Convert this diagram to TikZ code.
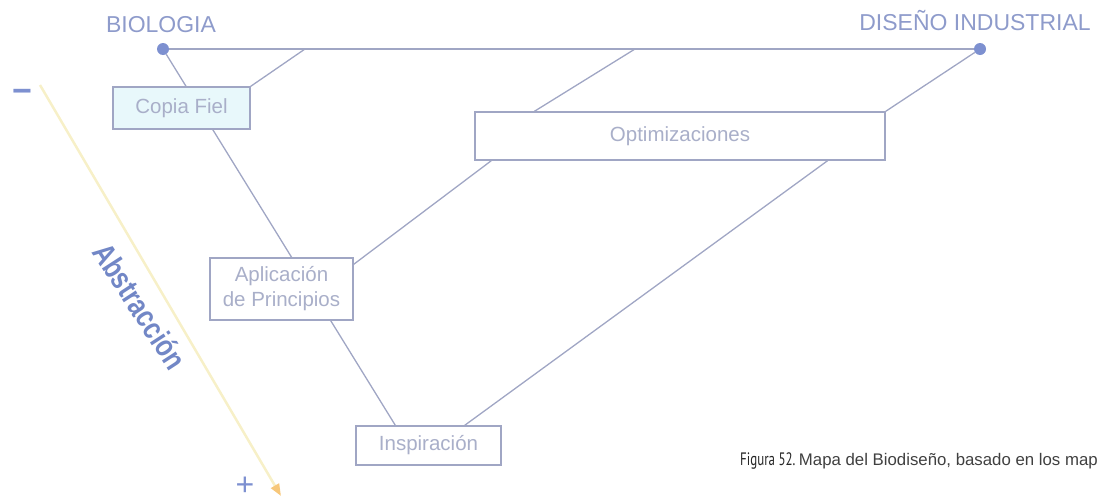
\documentclass[tikz,border=0pt]{standalone}
\usepackage{fontspec}
\setmainfont{Liberation Sans}
\newfontfamily\figfont{PT Sans}
\usepackage{tikz}
\usetikzlibrary{arrows.meta}
\usetikzlibrary{backgrounds}
\definecolor{linec}{HTML}{A0A6C4}
\definecolor{boxtxt}{HTML}{A9AFC9}
\definecolor{headtxt}{HTML}{8E9BCB}
\definecolor{dotc}{HTML}{7D90D0}
\definecolor{abstc}{HTML}{7287C6}
\definecolor{fielfill}{HTML}{E8F8FB}
\definecolor{axisc}{HTML}{F7F0C8}
\definecolor{tipc}{HTML}{F7C77A}
\tikzset{mapbox/.style={draw=linec, line width=1.3pt, fill=white, text=boxtxt,
      font=\fontsize{20.5}{25}\selectfont, align=center, inner sep=0pt},
  link/.style={draw=linec, line width=1.3pt},
  endpt/.style={circle, fill=dotc, inner sep=0pt, minimum size=12pt},
  heading/.style={text=headtxt, font=\fontsize{23}{26}\selectfont, inner sep=0pt, anchor=base}}

\begin{document}
\begin{tikzpicture}[x=1pt, y=-1pt]
		\clip (0,0) rectangle (1106,501);
		% ends of the map
		\node[endpt] (bio) at (163,49) {};
		\node[endpt] (dis) at (980,49) {};
		\node[heading] (biot) at (161,32) {BIOLOGIA};
		\node[heading] (dist) at (975,30) {DISEÑO INDUSTRIAL};
		% levels
		\node[mapbox, fill=fielfill, minimum width=137pt, minimum height=42pt] (copia) at (181.5,108) {Copia Fiel};
		\node[mapbox, minimum width=410pt, minimum height=48pt] (optim) at (680,136) {Optimizaciones};
		\node[mapbox, minimum width=143pt, minimum height=62pt] (aplic) at (281.5,289) {Aplicación\\de Principios};
		\node[mapbox, minimum width=145pt, minimum height=39pt] (insp) at (428.5,445.5) {Inspiración};
		\coordinate (j1) at (305,49);
		\coordinate (j2) at (635,49);
		\begin{scope}[on background layer]
		\draw[link] (bio) -- (dis);
		\draw[link] (bio) -- ([xshift=40pt]insp.north west);
		\draw[link] (copia.north east) -- (j1);
		\draw[link] ([xshift=60pt]optim.north west) -- (j2);
		\draw[link] (optim.north east) -- (dis);
		\draw[link] ([xshift=17pt]optim.south west) -- ([yshift=-7pt]aplic.north east);
		\draw[link] ([xshift=-58pt]optim.south east) -- ([xshift=-37pt]insp.north east);
		\end{scope}
		% abstraction axis
		\coordinate (amin) at (40,85);
		\coordinate (amax) at (281,496);
		\draw[axisc, line width=2.5pt, -{Triangle[length=12pt, width=9pt, color=tipc]}] (amin) -- (amax);
		\node[inner sep=0pt, text=dotc, font=\fontsize{34}{34}\selectfont\bfseries] (minus) at (22,96) {−};
		\node[inner sep=0pt, text=dotc, font=\fontsize{32}{32}\selectfont] (plus) at (245,486) {+};
		\node[inner sep=0pt, text=abstc, rotate=-57, font=\fontsize{31}{31}\selectfont\bfseries] (abst) at (140,306) {\scalebox{0.8}[1]{Abstracción}};
		% caption
		\node[anchor=base west, inner sep=0pt, text=black!85, font=\fontsize{18}{20}\selectfont\figfont] (fig) at (740,465) {\scalebox{0.72}[1]{Figura 52.}};
		\node[anchor=base west, inner sep=0pt, text=black!75, font=\fontsize{16.8}{20}\selectfont] (figt) at ([xshift=3pt]fig.base east) {Mapa del Biodiseño, basado en los map};
\end{tikzpicture}
\end{document}
